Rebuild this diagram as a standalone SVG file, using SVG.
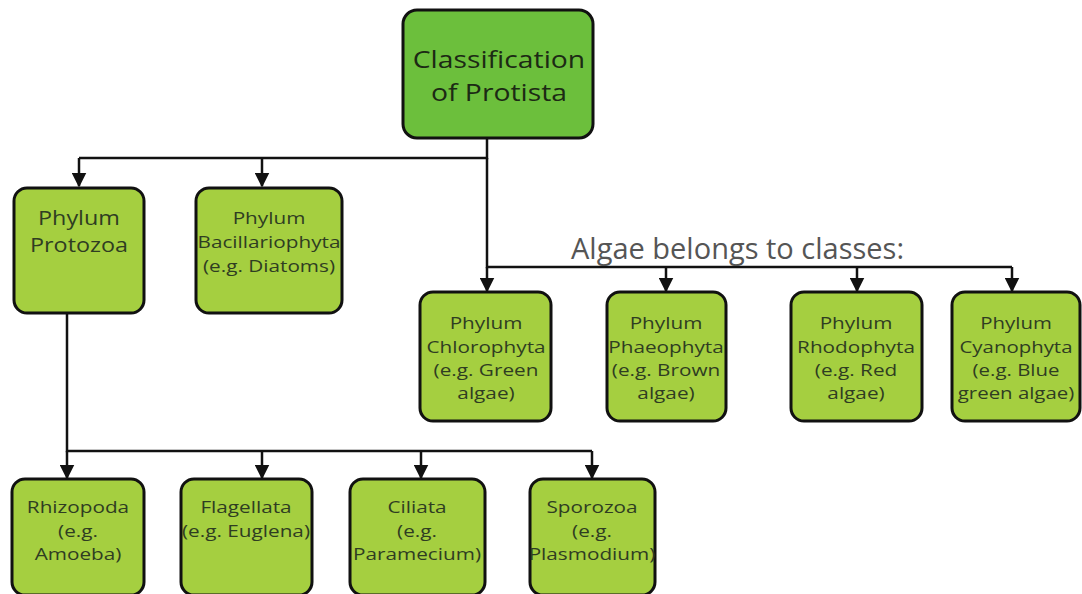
<svg xmlns="http://www.w3.org/2000/svg" width="1082" height="594" viewBox="0 0 1082 594">
<style>
.box{fill:#a5cf40;stroke:#111;stroke-width:3}
.root{fill:#6cbf3c;stroke:#111;stroke-width:3}
text{font-family:"Open Sans","Noto Sans",sans-serif;text-anchor:middle;fill:#2f3d22}
.s{font-size:17px}
.m{font-size:19.8px}
.l{font-size:24.2px;fill:#1c2a14}
.lab{font-size:29px;fill:#555;text-anchor:start}
.c{fill:none;stroke:#111;stroke-width:2.5}
</style>
<defs>
<marker id="a" viewBox="0 0 10 10" refX="9" refY="5" markerWidth="6" markerHeight="6" orient="auto" markerUnits="strokeWidth">
<path d="M0,0 L10,5 L0,10 z" fill="#111"/>
</marker>
</defs>
<g id="connectors">
<path class="c" d="M487,138 V158 H79"/>
<path class="c" d="M79,158 V186" marker-end="url(#a)"/>
<path class="c" d="M262,158 V186" marker-end="url(#a)"/>
<path class="c" d="M487,158 V267 H1012"/>
<path class="c" d="M487,267 V291" marker-end="url(#a)"/>
<path class="c" d="M666,267 V291" marker-end="url(#a)"/>
<path class="c" d="M857,267 V291" marker-end="url(#a)"/>
<path class="c" d="M1012,267 V291" marker-end="url(#a)"/>
<path class="c" d="M67,313 V451 H592"/>
<path class="c" d="M67,451 V478" marker-end="url(#a)"/>
<path class="c" d="M262,451 V478" marker-end="url(#a)"/>
<path class="c" d="M421,451 V478" marker-end="url(#a)"/>
<path class="c" d="M592,451 V478" marker-end="url(#a)"/>
</g>
<text class="lab" x="571" y="259">Algae belongs to classes:</text>
<g id="root">
<rect class="root" x="403" y="10" width="190" height="128" rx="14"/>
<g transform="translate(499,0) scale(1.17,1)">
<text class="l" x="0" y="68">Classification</text>
<text class="l" x="0" y="101">of Protista</text>
</g>
</g>
<g id="protozoa">
<rect class="box" x="14" y="188" width="130" height="125" rx="13"/>
<g transform="translate(79,0) scale(1.18,1)">
<text class="m" x="0" y="225">Phylum</text>
<text class="m" x="0" y="252">Protozoa</text>
</g>
</g>
<g id="bacillariophyta">
<rect class="box" x="196" y="188" width="146" height="125" rx="13"/>
<g transform="translate(269,0) scale(1.22,1)">
<text class="s" x="0" y="224">Phylum</text>
<text class="s" x="0" y="248">Bacillariophyta</text>
<text class="s" x="0" y="272">(e.g. Diatoms)</text>
</g>
</g>
<g id="chlorophyta">
<rect class="box" x="420" y="292" width="131" height="129" rx="13"/>
<g transform="translate(486,0) scale(1.22,1)">
<text class="s" x="0" y="329">Phylum</text>
<text class="s" x="0" y="353">Chlorophyta</text>
<text class="s" x="0" y="376">(e.g. Green</text>
<text class="s" x="0" y="399">algae)</text>
</g>
</g>
<g id="phaeophyta">
<rect class="box" x="607" y="292" width="119" height="129" rx="13"/>
<g transform="translate(666,0) scale(1.22,1)">
<text class="s" x="0" y="329">Phylum</text>
<text class="s" x="0" y="353">Phaeophyta</text>
<text class="s" x="0" y="376">(e.g. Brown</text>
<text class="s" x="0" y="399">algae)</text>
</g>
</g>
<g id="rhodophyta">
<rect class="box" x="791" y="292" width="131" height="129" rx="13"/>
<g transform="translate(856,0) scale(1.22,1)">
<text class="s" x="0" y="329">Phylum</text>
<text class="s" x="0" y="353">Rhodophyta</text>
<text class="s" x="0" y="376">(e.g. Red</text>
<text class="s" x="0" y="399">algae)</text>
</g>
</g>
<g id="cyanophyta">
<rect class="box" x="952" y="292" width="128" height="129" rx="13"/>
<g transform="translate(1016,0) scale(1.2,1)">
<text class="s" x="0" y="329">Phylum</text>
<text class="s" x="0" y="353">Cyanophyta</text>
<text class="s" x="0" y="376">(e.g. Blue</text>
<text class="s" x="0" y="399">green algae)</text>
</g>
</g>
<g id="rhizopoda">
<rect class="box" x="12" y="479" width="132" height="116" rx="13"/>
<g transform="translate(78,0) scale(1.22,1)">
<text class="s" x="0" y="513">Rhizopoda</text>
<text class="s" x="0" y="537">(e.g.</text>
<text class="s" x="0" y="560">Amoeba)</text>
</g>
</g>
<g id="flagellata">
<rect class="box" x="181" y="479" width="131" height="116" rx="13"/>
<g transform="translate(246,0) scale(1.22,1)">
<text class="s" x="0" y="513">Flagellata</text>
<text class="s" x="0" y="537">(e.g. Euglena)</text>
</g>
</g>
<g id="ciliata">
<rect class="box" x="350" y="479" width="135" height="116" rx="13"/>
<g transform="translate(417,0) scale(1.22,1)">
<text class="s" x="0" y="513">Ciliata</text>
<text class="s" x="0" y="537">(e.g.</text>
<text class="s" x="0" y="560">Paramecium)</text>
</g>
</g>
<g id="sporozoa">
<rect class="box" x="530" y="479" width="125" height="116" rx="13"/>
<g transform="translate(592,0) scale(1.22,1)">
<text class="s" x="0" y="513">Sporozoa</text>
<text class="s" x="0" y="537">(e.g.</text>
<text class="s" x="0" y="560">Plasmodium)</text>
</g>
</g>
</svg>
